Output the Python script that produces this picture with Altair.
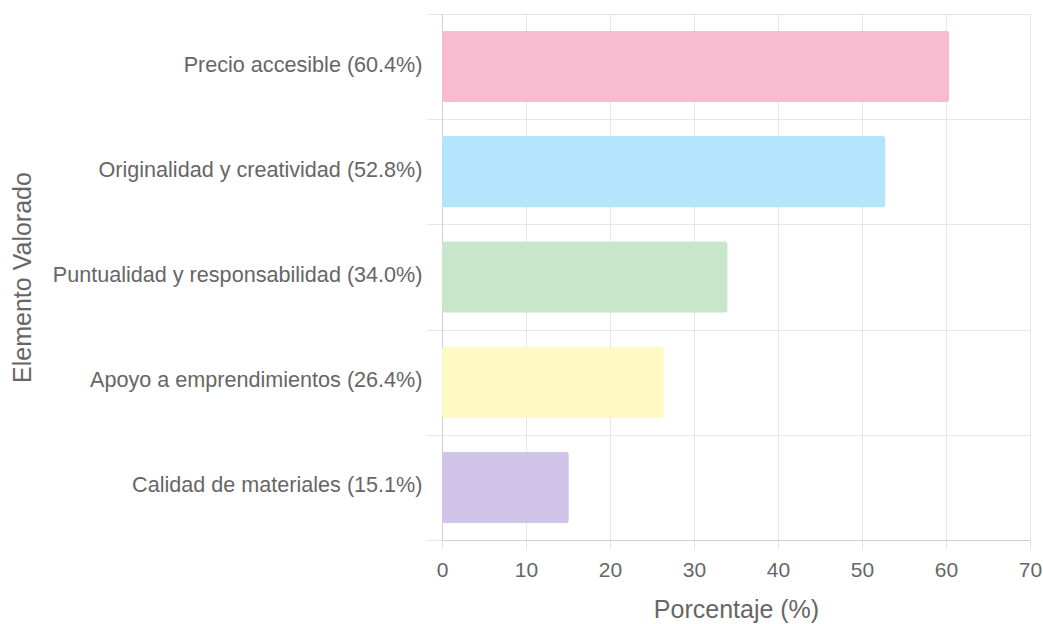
import altair as alt
import pandas as pd

categories = [
    "Precio accesible (60.4%)",
    "Originalidad y creatividad (52.8%)",
    "Puntualidad y responsabilidad (34.0%)",
    "Apoyo a emprendimientos (26.4%)",
    "Calidad de materiales (15.1%)",
]
values = [60.4, 52.8, 34.0, 26.4, 15.1]
colors = ["#F8BBD0", "#B3E5FC", "#C8E6C9", "#FFF9C4", "#D1C4E9"]
x_ticks = [0, 10, 20, 30, 40, 50, 60, 70]

df = pd.DataFrame({"cat": categories, "val": values})

FONT = "Liberation Sans"
GRID = "#e6e6e6"
TXT = "#666666"

chart = (
    alt.Chart(df)
    .mark_bar(height={"band": 0.68}, cornerRadius=3)
    .encode(
        x=alt.X(
            "val:Q",
            scale=alt.Scale(domain=[0, 70], nice=False),
            axis=alt.Axis(
                values=x_ticks,
                title="Porcentaje (%)",
                grid=True,
                gridColor=GRID,
                tickColor=GRID,
                tickSize=9,
                domainColor="#cfcfcf",
                labelFlush=False,
                labelFont=FONT,
                labelFontSize=21,
                labelColor=TXT,
                labelPadding=10,
                titleFont=FONT,
                titleFontSize=25,
                titleFontWeight="normal",
                titleColor=TXT,
                titleY=69,
                titleBaseline="middle",
            ),
        ),
        y=alt.Y(
            "cat:N",
            sort=categories,
            scale=alt.Scale(paddingInner=0, paddingOuter=0),
            axis=alt.Axis(
                title="Elemento Valorado",
                grid=True,
                tickBand="extent",
                gridColor=GRID,
                tickColor=GRID,
                tickSize=15,
                domainColor="#cfcfcf",
                labelFont=FONT,
                labelFontSize=21.6,
                labelColor=TXT,
                labelPadding=5,
                labelOffset=-1.5,
                labelLimit=0,
                titleFont=FONT,
                titleFontSize=25,
                titleFontWeight="normal",
                titleColor=TXT,
                titleAngle=-90,
                titleX=-420,
                titleY=263,
                titleAlign="center",
                titleBaseline="middle",
            ),
        ),
        color=alt.Color(
            "cat:N",
            scale=alt.Scale(domain=categories, range=colors),
            legend=None,
        ),
    )
    .properties(
        width=588,
        height=526,
        autosize=alt.AutoSizeParams(type="none"),
        padding={"left": 442, "top": 14, "right": 13, "bottom": 84},
    )
    .configure_view(stroke=None)
    .configure(background="white")
)

chart.save("out.html", embed_options={"renderer": "svg", "actions": False})
